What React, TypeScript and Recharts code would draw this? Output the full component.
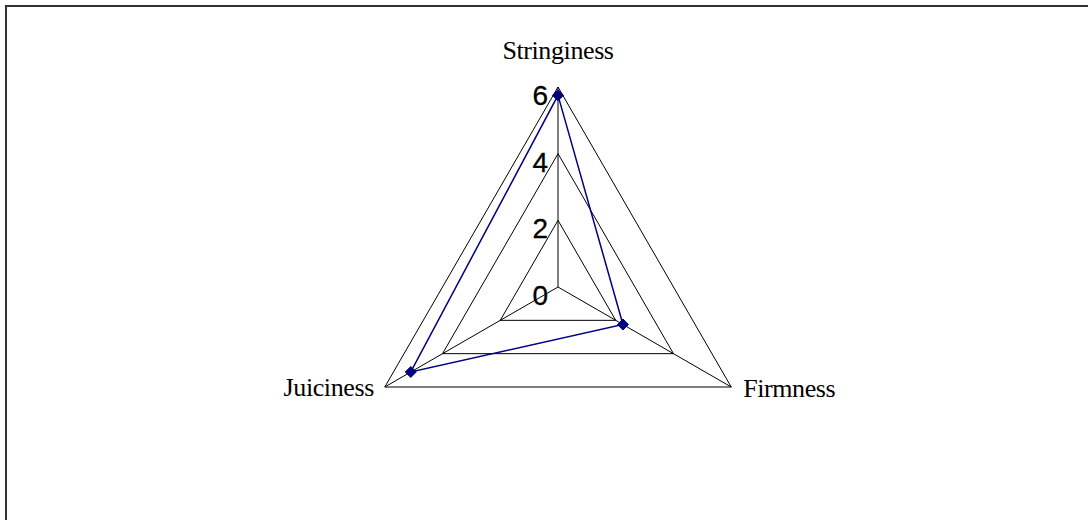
import { RadarChart, Radar, PolarGrid, PolarAngleAxis, PolarRadiusAxis } from "recharts";

const attributes = ["Stringiness", "Firmness", "Juiciness"];
const scores = [5.75, 2.25, 5.1];
const radiusTicks = [0, 2, 4, 6];

const NAVY = "#000080";

const data = attributes.map((name, i) => ({ name, score: scores[i] }));

function AngleTick(props: any) {
  const { x, y, payload, textAnchor } = props;
  let dx = 0;
  let dy = -20;
  if (textAnchor === "start") {
    dx = 5;
    dy = 6;
  } else if (textAnchor === "end") {
    dx = -4;
    dy = 5;
  }
  return (
    <text
      x={x + dx}
      y={y + dy}
      textAnchor={textAnchor}
      fontFamily="'Liberation Serif', 'Times New Roman', serif"
      fontSize={26}
      letterSpacing={-0.4}
      fill="#000"
    >
      {payload.value}
    </text>
  );
}

function RadiusTick(props: any) {
  const { x, y, payload } = props;
  return (
    <text
      x={x - 10}
      y={y + 18}
      textAnchor="end"
      fontFamily="'Liberation Sans', Arial, sans-serif"
      fontSize={28}
      fill="#000"
      stroke="#000"
      strokeWidth={0.3}
    >
      {payload.value}
    </text>
  );
}

function Diamond(props: any) {
  const { cx, cy } = props;
  if (cx == null || cy == null) return null;
  const s = 5.5;
  return (
    <polygon
      points={`${cx},${cy - s} ${cx + s},${cy} ${cx},${cy + s} ${cx - s},${cy}`}
      fill={NAVY}
      stroke={NAVY}
    />
  );
}

export default function App() {
  return (
    <div
      style={{
        position: "fixed",
        left: 0,
        top: 0,
        width: 1088,
        height: 520,
        overflow: "hidden",
        background: "#fff",
      }}
    >
      <div
        style={{
          position: "absolute",
          left: 5,
          top: 5,
          width: 1200,
          height: 600,
          borderTop: "2px solid #333",
          borderLeft: "2px solid #333",
        }}
      />
      <div style={{ position: "absolute", left: 0, top: 0 }}>
        <RadarChart
          width={1088}
          height={520}
          data={data}
          cx={558}
          cy={287}
          outerRadius={200}
          margin={{ top: 0, right: 0, bottom: 0, left: 0 }}
        >
          <PolarGrid gridType="polygon" stroke="#000" strokeWidth={1} strokeOpacity={1} />
          <PolarAngleAxis dataKey="name" tick={<AngleTick />} tickLine={false} axisLine={false} />
          <PolarRadiusAxis
            angle={90}
            domain={[0, 6]}
            ticks={radiusTicks as any}
            tickCount={4}
            tick={<RadiusTick />}
            axisLine={false}
            tickLine={false}
          />
          <Radar
            dataKey="score"
            stroke={NAVY}
            strokeWidth={1.5}
            fill="none"
            fillOpacity={0}
            dot={<Diamond />}
            isAnimationActive={false}
          />
        </RadarChart>
      </div>
    </div>
  );
}
